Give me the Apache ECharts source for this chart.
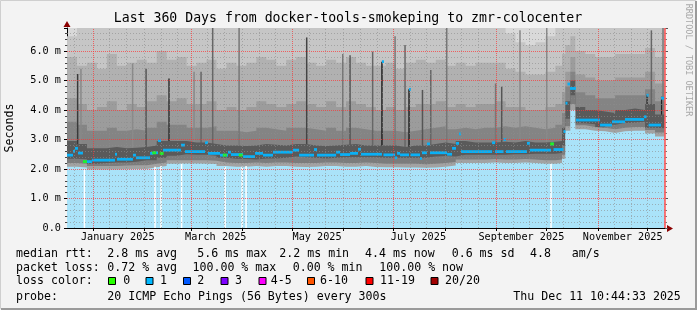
<!DOCTYPE html>
<html><head><meta charset="utf-8">
<script src="https://cdn.jsdelivr.net/npm/echarts@6/dist/echarts.min.js"></script>
<style>html,body{margin:0;padding:0;background:#f3f3f3;}#c{width:697px;height:310px;}</style>
</head><body><div id="c"></div>
<script>
// ---------- time frame ----------
const START = Date.UTC(2024, 11, 16, 10, 44, 33);
const END = Date.UTC(2025, 11, 11, 10, 44, 33);
const DAY = 86400000;

// ---------- axis ticks / labels ----------
const monthTickDates = ['2025-01-01','2025-02-01','2025-03-01','2025-04-01','2025-05-01','2025-06-01','2025-07-01','2025-08-01','2025-09-01','2025-10-01','2025-11-01','2025-12-01'];
const majorGridDates = ['2025-01-01','2025-03-01','2025-05-01','2025-07-01','2025-09-01','2025-11-01'];
const minorGridDates = ['2024-12-21','2025-01-11','2025-01-21','2025-02-01','2025-02-11','2025-02-21','2025-03-11','2025-03-21','2025-04-01','2025-04-11','2025-04-21','2025-05-11','2025-05-21','2025-06-01','2025-06-11','2025-06-21','2025-07-11','2025-07-21','2025-08-01','2025-08-11','2025-08-21','2025-09-11','2025-09-21','2025-10-01','2025-10-11','2025-10-21','2025-11-11','2025-11-21','2025-12-01','2025-12-11'];
const xLabelDates = ['2025-01-16','2025-03-16','2025-05-16','2025-07-16','2025-09-16','2025-11-16'];
const xLabelTexts = ['January 2025','March 2025','May 2025','July 2025','September 2025','November 2025'];
const yTickValues = [0,1,2,3,4,5,6];
const yTickLabels = ['0.0','1.0 m','2.0 m','3.0 m','4.0 m','5.0 m','6.0 m'];
const yMax = 6.78;

// ---------- smoke bands (days since start, values in ms) ----------
const smokeDays = [0,6,12,18,24,30,36,42,48,54,60,66,72,78,84,90,96,102,108,114,120,126,132,138,144,150,156,162,168,174,180,186,192,198,204,210,216,222,228,234,240,246,252,258,264,270,276,282,288,294,298,300,303,306,312,318,324,330,336,342,348,354,360];
const smokeMin = [2.08,2.05,1.98,1.98,1.98,1.99,2.0,2.0,2.06,2.1,2.18,2.19,2.19,2.18,2.17,2.1,2.08,2.08,2.1,2.08,2.1,2.1,2.08,2.07,2.08,2.1,2.1,2.08,2.08,2.1,2.07,2.06,2.06,2.05,2.05,2.04,2.05,2.08,2.12,2.2,2.2,2.2,2.22,2.2,2.2,2.22,2.2,2.18,2.18,2.2,2.35,3.3,4.0,3.35,3.3,3.28,3.22,3.28,3.3,3.3,3.2,3.1,3.15];
const smokeLowB = [2.2,2.18,2.1,2.1,2.1,2.12,2.13,2.13,2.18,2.22,2.3,2.3,2.3,2.3,2.28,2.22,2.2,2.2,2.22,2.2,2.22,2.22,2.2,2.2,2.2,2.22,2.22,2.2,2.2,2.22,2.2,2.18,2.18,2.18,2.18,2.16,2.18,2.2,2.24,2.32,2.32,2.32,2.34,2.32,2.32,2.34,2.32,2.3,2.3,2.32,2.48,3.45,4.2,3.48,3.42,3.4,3.35,3.4,3.42,3.42,3.32,3.24,3.28];
const smokeLowA = [2.35,2.33,2.18,2.2,2.22,2.22,2.25,2.3,2.3,2.38,2.45,2.5,2.48,2.48,2.45,2.38,2.35,2.34,2.32,2.36,2.36,2.38,2.42,2.4,2.38,2.36,2.38,2.4,2.4,2.4,2.4,2.38,2.38,2.38,2.38,2.38,2.42,2.44,2.42,2.48,2.48,2.48,2.48,2.48,2.5,2.5,2.52,2.52,2.52,2.54,2.8,3.7,4.5,3.55,3.52,3.4,3.5,3.56,3.58,3.6,3.4,3.38,3.5];
const smokeUpA = [2.95,2.85,2.7,2.7,2.75,2.7,2.72,2.75,2.8,2.95,2.95,2.95,2.9,2.9,2.85,2.8,2.8,2.78,2.8,2.85,2.82,2.8,2.85,2.85,2.8,2.78,2.8,2.82,2.85,2.8,2.8,2.8,2.8,2.75,2.8,2.8,2.85,2.9,2.85,2.95,2.9,2.9,2.9,2.92,2.9,2.95,2.9,2.9,2.92,2.95,3.4,4.3,5.0,4.1,4.0,3.95,3.9,4.0,4.05,4.0,4.2,3.85,3.9];
const smokeUpB = [3.6,3.5,3.3,3.3,3.4,3.3,3.35,3.3,3.4,3.6,3.5,3.5,3.4,3.4,3.45,3.3,3.3,3.25,3.3,3.4,3.35,3.3,3.4,3.4,3.35,3.3,3.4,3.3,3.4,3.35,3.3,3.3,3.3,3.25,3.3,3.35,3.4,3.45,3.35,3.4,3.35,3.4,3.4,3.45,3.4,3.45,3.4,3.35,3.4,3.5,3.9,4.8,5.3,4.6,4.5,4.4,4.4,4.5,4.5,4.5,4.7,4.3,4.4];
const smokeUpC = [4.4,4.2,4.0,4.1,4.3,4.0,4.2,4.1,4.3,4.5,4.3,4.4,4.2,4.2,4.3,4.0,4.1,4.0,4.1,4.3,4.2,4.1,4.2,4.3,4.2,4.1,4.3,4.1,4.3,4.2,4.1,4.0,4.1,4.0,4.1,4.2,4.2,4.3,4.1,4.2,4.1,4.2,4.2,4.3,4.1,4.1,4.0,4.0,4.1,4.2,4.6,5.3,5.8,5.2,5.1,5.0,5.0,5.1,5.1,5.1,5.3,4.9,5.0];
const smokeUpD = [5.8,5.5,5.6,5.4,5.9,5.5,5.6,5.7,5.6,6.0,5.7,5.8,5.5,5.6,5.7,5.4,5.6,5.5,5.6,5.8,5.7,5.5,5.7,5.8,5.6,5.5,5.7,5.6,5.8,5.6,5.5,5.5,5.6,5.4,5.6,5.7,5.6,5.7,5.5,5.6,5.5,5.6,5.6,5.6,5.4,5.3,5.2,5.2,5.3,5.5,5.9,6.2,6.5,6.0,5.9,5.8,5.8,5.9,5.9,5.9,6.1,5.8,5.9];
const smokeMax = [6.5,6.8,6.8,6.8,6.8,6.8,6.8,6.8,6.8,6.8,6.8,6.8,6.8,6.8,6.8,6.8,6.8,6.8,6.8,6.8,6.8,6.8,6.8,6.8,6.8,6.8,6.8,6.8,6.8,6.8,6.8,6.8,6.8,6.8,6.8,6.8,6.8,6.8,6.8,6.8,6.8,6.8,6.8,6.8,6.6,6.3,6.2,6.3,6.5,6.8,6.8,6.8,6.8,6.8,6.8,6.8,6.8,6.8,6.8,6.8,6.8,6.8,6.8];

// ---------- dense single-column smoke spikes ----------
const spikeDays = [6.4,8.4,39.5,47.6,61.4,76.5,80.7,87.7,103.6,144.3,166,170.4,184,189.6,197.5,203.5,205.9,214,219,228.6,258,261.7,272.7,288.8,349.2,351.8,358,358.8];
const spikeVals = [5.22,5.4,5.58,5.4,5.07,5.3,5.3,6.78,6.78,6.46,5.9,5.86,5.98,5.64,6.5,6.2,4.7,4.68,5.36,6.78,4.9,4.79,6.7,6.78,4.5,6.7,4.45,6.78];
const spikeShade = ['#3a3a3a','#888888','#8a8a8a','#555555','#333333','#888888','#666666','#666666','#777777','#444444','#777777','#555555','#666666','#222222','#777777','#666666','#222222','#555555','#666666','#777777','#777777','#555555','#888888','#888888','#333333','#666666','#222222','#777777'];

// ---------- missing data columns ----------
const gapDays = [10.5,53,56.6,69,95.2,105.4,107.8,291.4];
const gapVals = [1.98,2.08,2.1,2.19,2.08,2.08,2.1,2.18];

// ---------- median rtt (step) ----------
const medDays = [0,3.6,4.8,6.6,9.6,15,28.9,30.1,39.7,41.5,50,51.8,54.8,56.6,57.8,68.6,71,83.1,84.9,92.1,96.9,98.7,106,113.2,118,124,136,139.7,148.7,150.5,162,164.4,170.4,175.2,177,189.6,190.5,197.5,198.7,200.5,205.9,206.8,212.5,213.7,216.7,218.5,228.8,231.8,234.2,236,237.2,255.9,257.7,262.8,264.3,276.9,278.7,291.4,292.9,298.9,300.1,301.3,302.8,306.4,320.9,328.1,335.9,347.4,348.9,350.1,357.6,360];
const medVals = [2.47,2.6,2.7,2.54,2.25,2.3,2.5,2.33,2.47,2.38,2.53,2.55,2.96,2.53,2.64,2.81,2.59,2.89,2.53,2.47,2.57,2.49,2.42,2.53,2.47,2.57,2.64,2.47,2.66,2.47,2.57,2.49,2.53,2.67,2.5,5.64,2.48,2.38,2.53,2.48,4.7,2.48,2.36,2.55,2.85,2.55,2.5,2.7,2.87,3.19,2.59,2.89,2.59,3.0,2.59,2.87,2.64,2.85,2.66,3.27,4.23,4.88,4.73,3.66,3.49,3.6,3.68,3.77,4.5,3.49,4.4,4.4];
// median samples with zero loss (green)
const greenDays = [10.8,52.5,57,95,104.6,292];
const greenVals = [2.25,2.55,2.53,2.47,2.47,2.85];

// ---------- legend ----------
const lossColors = ['#26ff00','#00b8ff','#0059ff','#7e00ff','#ff00ff','#ff5500','#ff0000','#a10000'];
const lossLabels = ['0','1','2','3','4-5','6-10','11-19','20/20'];

// ======================================================
const t = d => START + d * DAY;
const ts = s => Date.parse(s + 'T00:00:00Z');
const pairs = (xs, ys) => xs.map((d, i) => [t(d), ys[i]]);

function band(name, ys, color, z) {
  return {
    type: 'line', name, step: 'end', symbol: 'none', silent: true, animation: false, z,
    data: pairs(smokeDays, ys), lineStyle: { width: 0 },
    areaStyle: { color, opacity: 1, origin: 'start' }, clip: true
  };
}

const chart = echarts.init(document.getElementById('c'), null, { renderer: 'canvas' });
const MONO = '"DejaVu Sans Mono", monospace';

const MAJOR = { color: 'rgba(255,50,50,0.7)', type: [1, 1], width: 1 };
const MINOR = { color: 'rgba(140,140,140,0.6)', type: [1, 2], width: 1 };
const gridLines = [];
minorGridDates.forEach(s => gridLines.push({ xAxis: ts(s), lineStyle: MINOR }));
majorGridDates.forEach(s => gridLines.push({ xAxis: ts(s), lineStyle: MAJOR }));
for (let k = 1; k * 0.2 < yMax; k++) {
  const v = +(k * 0.2).toFixed(1);
  gridLines.push({ yAxis: v, lineStyle: k % 5 === 0 ? MAJOR : MINOR });
}
gridLines.push({ xAxis: END, lineStyle: { color: 'rgba(255,90,90,0.8)', type: 'solid', width: 2 } });

const graphics = [
  { type: 'rect', shape: { x: 0.5, y: 0.5, width: 695, height: 308 }, style: { fill: 'none', stroke: '#cfcfcf', lineWidth: 1 }, silent: true },
  { type: 'polyline', shape: { points: [[696, 1], [696, 309], [1, 309]] }, style: { stroke: '#9a9a9a', lineWidth: 2, fill: 'none' }, silent: true },
  { type: 'text', x: 348, y: 19, style: { text: 'Last 360 Days from docker-tools-smokeping to zmr-colocenter', font: '13.2px ' + MONO, fill: '#000', align: 'center', verticalAlign: 'middle' } },
  { type: 'text', x: 10, y: 128, rotation: Math.PI / 2, style: { text: 'Seconds', font: '11.6px ' + MONO, fill: '#000', align: 'center', verticalAlign: 'middle' } },
  { type: 'text', x: 688, y: 60, rotation: -Math.PI / 2, style: { text: 'RRDTOOL / TOBI OETIKER', font: '8.5px ' + MONO, fill: '#a8a8a8', align: 'center', verticalAlign: 'middle' } },
  { type: 'polygon', shape: { points: [[63.5, 27], [70.5, 27], [67, 21]] }, style: { fill: '#8b0000' }, silent: true },
  { type: 'line', shape: { x1: 665, y1: 228.5, x2: 668, y2: 228.5 }, style: { stroke: '#000', lineWidth: 1 }, silent: true },
  { type: 'polygon', shape: { points: [[667, 225], [667, 232], [673, 228.5]] }, style: { fill: '#8b0000' }, silent: true }
];
const legendRows = [
  { y: 254.3, items: [[16, 'median rtt:'], [107.3, '2.8 ms avg'], [197.3, '5.6 ms max'], [279.3, '2.2 ms min'], [365, '4.4 ms now'], [451.7, '0.6 ms sd'], [530, '4.8'], [571.7, 'am/s']] },
  { y: 268.3, items: [[16, 'packet loss:'], [107.3, '0.72 % avg'], [192.5, '100.00 % max'], [292.7, '0.00 % min'], [379.3, '100.00 % now']] },
  { y: 281.3, items: [[16, 'loss color:']] },
  { y: 296.5, items: [[16, 'probe:'], [107.3, '20 ICMP Echo Pings (56 Bytes) every 300s'], [513.3, 'Thu Dec 11 10:44:33 2025']] }
];
legendRows.forEach(r => r.items.forEach(([x, s]) => graphics.push({ type: 'text', x, y: r.y, style: { text: s, font: '11.6px ' + MONO, fill: '#000', align: 'left', verticalAlign: 'middle' } })));
const boxX = [108.5, 146, 183.5, 221, 259, 307.5, 366, 431];
const boxLabelX = [123.3, 160, 197.3, 235, 270.7, 320, 380, 445];
lossColors.forEach((c, i) => {
  graphics.push({ type: 'rect', shape: { x: boxX[i], y: 277.5, width: 7, height: 7 }, style: { fill: c, stroke: '#000', lineWidth: 1 } });
  graphics.push({ type: 'text', x: boxLabelX[i], y: 281.3, style: { text: lossLabels[i], font: '11.6px ' + MONO, fill: '#000', align: 'left', verticalAlign: 'middle' } });
});

const medSegs = medDays.map((d, i) => [t(d), t(i + 1 < medDays.length ? medDays[i + 1] : d), medVals[i]]);
function medRender(params, api) {
  const a = api.coord([api.value(0), api.value(2)]);
  const b = api.coord([api.value(1), api.value(2)]);
  return { type: 'rect', shape: { x: a[0], y: a[1] - 1.4, width: Math.max(2, b[0] - a[0]), height: 2.8 }, style: { fill: '#0ab0f5' } };
}

const xLabelVals = xLabelDates.map(ts);
const option = {
  backgroundColor: '#f3f3f3',
  animation: false,
  grid: { left: 67, top: 28, width: 598, height: 200, backgroundColor: '#d9d9d9', show: true, borderWidth: 0 },
  xAxis: {
    type: 'value', min: START, max: END,
    axisLine: { show: true, lineStyle: { color: '#000', width: 1 } },
    axisTick: { show: true, length: 3, customValues: monthTickDates.map(ts), lineStyle: { color: '#000' } },
    axisLabel: {
      show: true, customValues: xLabelVals, margin: 4,
      fontFamily: MONO, fontSize: 10.2, color: '#000',
      formatter: v => { const i = xLabelVals.indexOf(v); return i >= 0 ? xLabelTexts[i] : ''; }
    },
    splitLine: { show: false }
  },
  yAxis: [{
    type: 'value', min: 0, max: yMax, interval: 1,
    axisLine: { show: true, lineStyle: { color: '#000' } },
    axisTick: { show: true, length: 3, lineStyle: { color: '#000' } },
    minorTick: { show: true, splitNumber: 5, length: 2, lineStyle: { color: '#444' } },
    axisLabel: { fontFamily: MONO, fontSize: 10.2, color: '#000', margin: 6, showMaxLabel: false,
      formatter: v => { const i = yTickValues.indexOf(v); return i >= 0 ? yTickLabels[i] : ''; } },
    splitLine: { show: false }
  }, {
    type: 'value', min: 0, max: yMax, interval: 1, position: 'right',
    axisLine: { show: false }, axisLabel: { show: false },
    axisTick: { show: true, length: 3, lineStyle: { color: '#555' } },
    minorTick: { show: true, splitNumber: 5, length: 2, lineStyle: { color: '#777' } },
    splitLine: { show: false }
  }],
  graphic: graphics,
  series: [
    band('max', smokeMax, '#c6c6c6', 2),
    band('upD', smokeUpD, '#b1b1b1', 3),
    band('upC', smokeUpC, '#9c9c9c', 4),
    band('upB', smokeUpB, '#848484', 5),
    {
      type: 'bar', name: 'spikes', barWidth: 1.5, barGap: '-100%', silent: true, animation: false, z: 6,
      data: spikeDays.map((d, i) => ({ value: [t(d), spikeVals[i]], itemStyle: { color: spikeShade[i] } }))
    },
    band('upA', smokeUpA, '#5a5a5a', 7),
    band('lowA', smokeLowA, '#7c7c7c', 8),
    band('lowB', smokeLowB, '#a2a2a2', 9),
    band('min', smokeMin, '#aae3f9', 10),
    {
      type: 'bar', name: 'gaps', barWidth: 1.5, barGap: '-100%', silent: true, animation: false, z: 11,
      itemStyle: { color: '#ffffff' }, data: pairs(gapDays, gapVals)
    },
    {
      type: 'custom', name: 'median', silent: true, animation: false, z: 12,
      encode: { x: [0, 1], y: 2 }, data: medSegs, renderItem: medRender, clip: true
    },
    {
      type: 'scatter', name: 'median0', symbol: 'rect', symbolSize: [4, 3], silent: true, animation: false, z: 13,
      itemStyle: { color: '#26ff00' }, data: pairs(greenDays, greenVals)
    },
    {
      type: 'line', name: 'grid', data: [], silent: true, animation: false, z: 20,
      markLine: { silent: true, z: 30, symbol: ['none', 'none'], label: { show: false }, animation: false, data: gridLines }
    }
  ]
};
chart.setOption(option);
</script></body></html>
